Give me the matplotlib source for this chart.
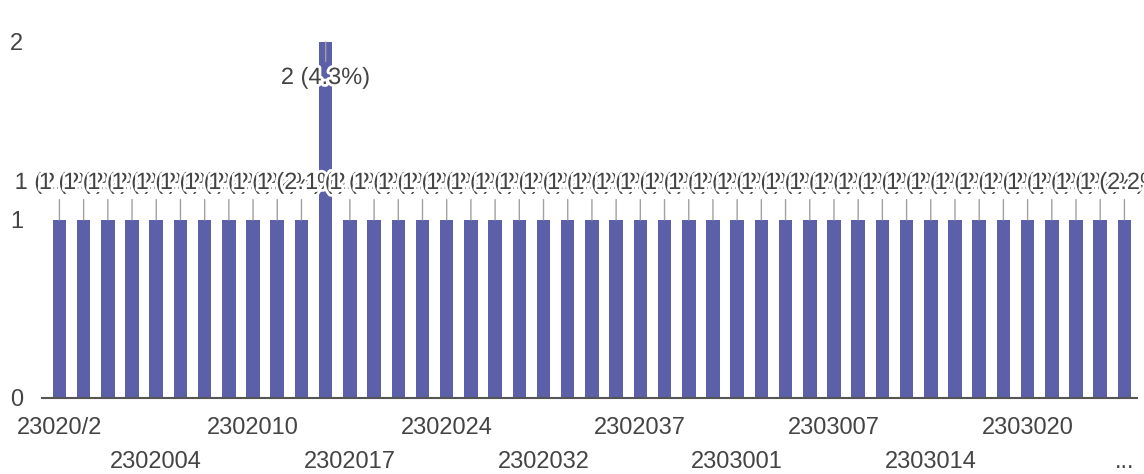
import matplotlib
matplotlib.use("Agg")
import matplotlib.pyplot as plt
import matplotlib.patheffects as pe

# response ids (only every 4th one is readable on the axis)
ids = ["23020/2", "2302001", "2302002", "2302003", "2302004", "2302005",
       "2302006", "2302008", "2302010", "2302011", "2302013", "2302015",
       "2302017", "2302018", "2302020", "2302022", "2302024", "2302026",
       "2302028", "2302030", "2302032", "2302033", "2302034", "2302036",
       "2302037", "2302039", "2302040", "2302042", "2303001", "2303002",
       "2303004", "2303005", "2303007", "2303008", "2303010", "2303012",
       "2303014", "2303015", "2303017", "2303018", "2303020", "2303021",
       "2303023", "2303025", "2303027"]
counts = [1] * len(ids)
counts[11] = 2

tick_pos = list(range(0, len(ids), 4))
tick_labels = ["23020/2", "2302004", "2302010", "2302017", "2302024", "2302032",
               "2302037", "2303001", "2303007", "2303014", "2303020", "..."]

FONT = "Liberation Sans"
TXT = "#444444"
BAR = "#5b60a9"

fig = plt.figure(figsize=(11.44, 4.74), dpi=100)
ax = fig.add_axes([42/1144, 1-398/474, 1095/1144, 356/474])

x = list(range(len(ids)))
ax.bar(x, counts, width=0.56, color=BAR, zorder=1)

total = float(sum(counts))
halo = [pe.withStroke(linewidth=4, foreground="white")]
for i, v in enumerate(counts):
    lab = "%d (%.1f%%)" % (v, v / total * 100)
    if v == max(counts):
        off = -36
    else:
        off = 37
    ax.annotate(lab, xy=(i, v), xytext=(0, off), textcoords="offset pixels",
                ha="center", va="center", fontsize=17, family=FONT, color=TXT,
                path_effects=halo, annotation_clip=False, zorder=3,
                arrowprops=dict(arrowstyle="-", color="#a0a0a0", lw=1,
                                shrinkA=2, shrinkB=0))

ax.set_xlim(-0.72, len(ids) - 1 + 0.52)
ax.set_ylim(0, 2)
ax.set_yticks([0, 1, 2])
ax.set_yticklabels(["0", "1", "2"], family=FONT, fontsize=17, color=TXT, ha="left")
ax.tick_params(axis="y", length=0, pad=23)

ax.set_xticks(tick_pos)
ax.set_xticklabels(tick_labels, family=FONT, fontsize=17, color=TXT)
ax.tick_params(axis="x", length=0)
for k, t in enumerate(ax.xaxis.get_major_ticks()):
    if k % 2 == 0:
        t.set_pad(14)
    else:
        t.set_pad(38)

for s in ["top", "right", "left"]:
    ax.spines[s].set_visible(False)
ax.spines["bottom"].set_color("#555555")
ax.spines["bottom"].set_linewidth(1.5)

plt.savefig("out.png", dpi=100, facecolor="white")
